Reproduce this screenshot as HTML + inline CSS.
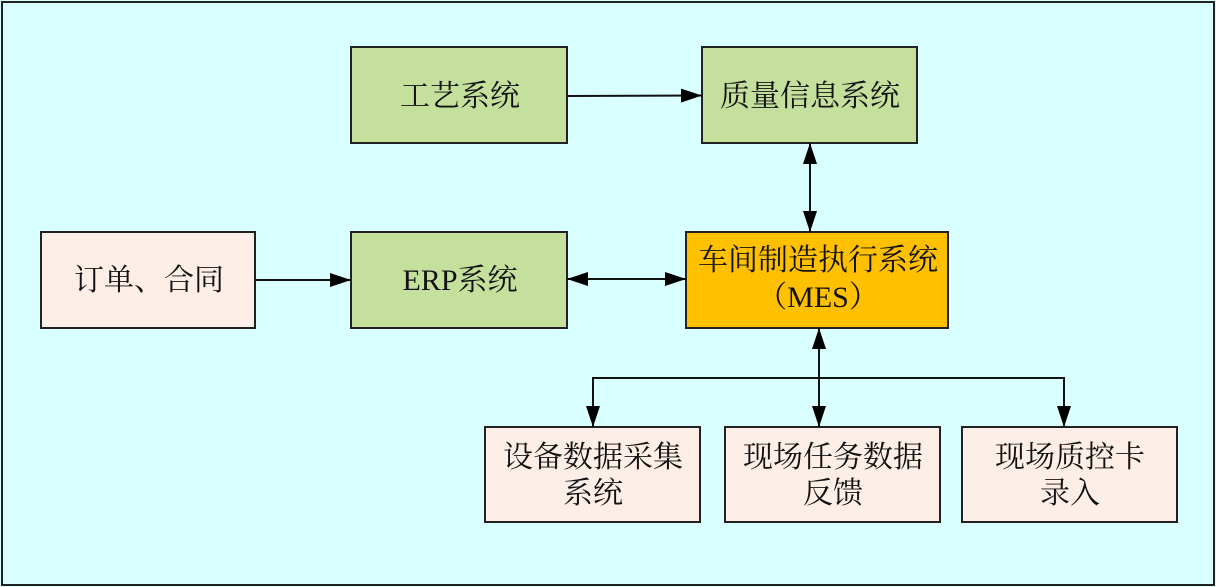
<!DOCTYPE html>
<html>
<head>
<meta charset="utf-8">
<style>
html,body{margin:0;padding:0;background:#d9ffff;}
svg{display:block;}
text{font-family:"Liberation Serif","Noto Serif CJK SC",serif;font-size:30px;fill:#111;}
</style>
</head>
<body>
<svg width="1216" height="587" viewBox="0 0 1216 587" xmlns="http://www.w3.org/2000/svg">
<rect x="0" y="0" width="1216" height="587" fill="#d9ffff"/>
<rect x="2" y="2" width="1212" height="583" fill="none" stroke="#222" stroke-width="2"/>

<defs>
<marker id="ah" markerWidth="21" markerHeight="14" refX="21" refY="7" orient="auto" markerUnits="userSpaceOnUse">
<path d="M0,0 L21,7 L0,14 Z" fill="#000"/>
</marker>
<marker id="as" markerWidth="21" markerHeight="14" refX="0" refY="7" orient="auto" markerUnits="userSpaceOnUse">
<path d="M21,0 L0,7 L21,14 Z" fill="#000"/>
</marker>
</defs>

<!-- boxes -->
<g stroke="#222" stroke-width="2">
<rect x="351" y="47" width="216" height="96" fill="#c4e09c"/>
<rect x="702" y="47" width="215" height="96" fill="#c4e09c"/>
<rect x="41" y="232" width="214" height="96" fill="#fdeee8"/>
<rect x="351" y="232" width="216" height="96" fill="#c4e09c"/>
<rect x="686" y="232" width="262" height="96" fill="#ffc000"/>
<rect x="485" y="427" width="215" height="95" fill="#fdeee8"/>
<rect x="725" y="427" width="215" height="95" fill="#fdeee8"/>
<rect x="962" y="427" width="215" height="95" fill="#fdeee8"/>
</g>

<!-- connectors -->
<g stroke="#111" stroke-width="2" fill="none">
<line x1="567" y1="96" x2="702" y2="95.5" marker-end="url(#ah)"/>
<line x1="810" y1="143" x2="810" y2="232" marker-start="url(#as)" marker-end="url(#ah)"/>
<line x1="255" y1="280" x2="351" y2="280" marker-end="url(#ah)"/>
<line x1="567" y1="279" x2="686" y2="279" marker-start="url(#as)" marker-end="url(#ah)"/>
<line x1="819" y1="328" x2="819" y2="427" marker-start="url(#as)" marker-end="url(#ah)"/>
<polyline points="593,378 1064,378"/>
<line x1="593" y1="377" x2="593" y2="427" marker-end="url(#ah)"/>
<line x1="1064" y1="377" x2="1064" y2="427" marker-end="url(#ah)"/>
</g>

<!-- labels -->
<g text-anchor="middle">
<text x="460" y="106">工艺系统</text>
<text x="810" y="106">质量信息系统</text>
<text x="149" y="290">订单、合同</text>
<text x="460" y="290">ERP系统</text>
<text x="818" y="270">车间制造执行系统</text>
<text x="818" y="307">（MES）</text>
<text x="593" y="467">设备数据采集</text>
<text x="593" y="503">系统</text>
<text x="833" y="467">现场任务数据</text>
<text x="833" y="503">反馈</text>
<text x="1070" y="467">现场质控卡</text>
<text x="1070" y="503">录入</text>
</g>
</svg>
</body>
</html>
